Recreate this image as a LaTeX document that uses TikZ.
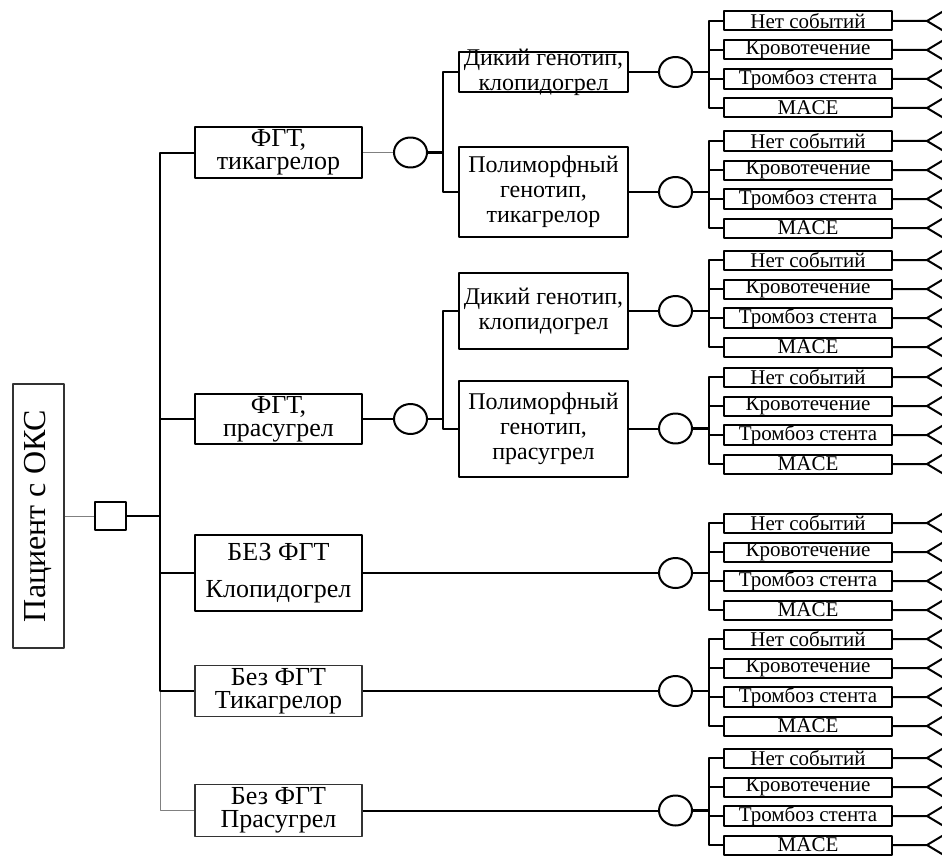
\documentclass[tikz,border=0pt]{standalone}
\usepackage{fontspec}
\setmainfont{Liberation Serif}
\usetikzlibrary{calc,shapes.geometric}

\begin{document}
\begin{tikzpicture}[x=0.5pt,y=-0.5pt,line join=round,
  every node/.style={inner sep=0pt},
  lk/.style={line width=1pt},
  gl/.style={line width=0.5pt,gray},
  bx/.style={draw,line width=1pt,minimum width=83.5pt},
  tb/.style={draw=black!80,line width=0.6pt,minimum width=83.5pt},
  gb/.style={draw,line width=1pt,minimum width=84.5pt},
  ob/.style={draw,line width=1pt,minimum width=84pt,minimum height=9.5pt,font=\fontsize{10.5}{12}\selectfont},
  ch/.style={draw,ellipse,line width=1pt,minimum width=16.5pt,minimum height=15pt},
  tx/.style={align=center,font=\fontsize{13}{11.5}\selectfont},
  gt/.style={align=center,font=\fontsize{12}{12.5}\selectfont}]
  \useasboundingbox (0,0) rectangle (942,856);
  % patient and decision
  \node[draw=black!80,line width=0.6pt,rotate=90,minimum width=132pt,minimum height=25.5pt,
    font=\fontsize{16}{18}\selectfont] (P) at (38.5,516) {Пациент с ОКС};
  \node[draw,line width=1pt,minimum width=15.5pt,minimum height=14pt] (D) at (110.5,516) {};
  \coordinate (B1) at (160,516);
  % strategies
  \node[bx,minimum height=25.5pt,label={[tx]center:{ФГТ,\\тикагрелор}}] (FT) at (278.5,152.5) {};
  \node[bx,minimum height=25pt,label={[tx]center:{ФГТ,\\прасугрел}}] (FP) at (278.5,419) {};
  \node[bx,minimum height=38pt,label={[tx,font=\fontsize{13}{18.5}\selectfont]center:{БЕЗ ФГТ\\Клопидогрел}}] (NC) at (278.5,573) {};
  \node[tb,minimum height=25.5pt,label={[tx]center:{Без ФГТ\\Тикагрелор}}] (NT) at (278.5,691) {};
  \node[tb,minimum height=26pt,label={[tx]center:{Без ФГТ\\Прасугрел}}] (NP) at (278.5,810.5) {};
  \draw[gl] (P.south) -- (D.west);
  \draw[lk] (D.east) -- (B1);
  \draw[gl] (B1) |- (NP.west);
  \draw[lk] (FT.west) -| (B1) |- (NT.west);
  \draw[lk] (B1) |- (FP.west);
  \draw[lk] (B1) |- (NC.west);
  % genotype
  \node[ch] (CT) at (410.5,152.5) {};
  \node[ch] (CP) at (410.5,419) {};
  \coordinate (B2) at ([xshift=7.5pt]CT.east);
  \coordinate (B3) at ([xshift=7.5pt]CP.east);
  \node[gb,minimum height=20pt,label={[gt]center:{Дикий генотип,\\клопидогрел}}] (WT1) at (543.5,72) {};
  \node[gb,minimum height=45pt,label={[gt]center:{Полиморфный\\генотип,\\тикагрелор}}] (PT1) at (543.5,192) {};
  \node[gb,minimum height=38pt,label={[gt]center:{Дикий генотип,\\клопидогрел}}] (WT2) at (543.5,311) {};
  \node[gb,minimum height=48pt,label={[gt]center:{Полиморфный\\генотип,\\прасугрел}}] (PT2) at (543.5,428.5) {};
  \draw[gl] (FT.east) -- (CT.west);
  \draw[lk] (FP.east) -- (CP.west);
  \draw[line width=1.4pt] (CT.east) -- (B2);
  \draw[line width=1.4pt] (CP.east) -- (B3);
  \draw[lk] (WT1.west) -| (B2) |- (PT1.west);
  \draw[lk] (WT2.west) -| (B3) |- (PT2.west);
  % outcomes
  \node[ch] (C1) at (675.5,72) {};
  \node[ch] (C2) at (675.5,192) {};
  \node[ch] (C3) at (675.5,311) {};
  \node[ch] (C4) at (675.5,428.5) {};
  \node[ch] (C5) at (675.5,573) {};
  \node[ch] (C6) at (675.5,691) {};
  \node[ch] (C7) at (675.5,810.5) {};
  \draw[lk] (WT1.east) -- (C1.west);
  \draw[lk] (PT1.east) -- (C2.west);
  \draw[lk] (WT2.east) -- (C3.west);
  \draw[lk] (PT2.east) -- (C4.west);
  \draw[lk] (NC.east) -- (C5.west);
  \draw[lk] (NT.east) -- (C6.west);
  \draw[lk] (NP.east) -- (C7.west);
  \foreach \c/\y in {C1/21,C2/141,C3/260,C4/377,C5/523,C6/639,C7/758}{
    \coordinate (B\c) at ([xshift=8pt]\c.east);
    \draw[line width=1.4pt] (\c.east) -- (B\c);
    \foreach \d/\t [count=\k] in {0/Нет событий,29/Кровотечение,58/Тромбоз стента,87/MACE}{
      \node[ob] (\c-\k) at (808,\y+\d) {\t};
      \draw[lk] (\c-\k.east) -- ++(17pt,0) coordinate (T\c-\k) -- ++(12.5pt,-7.5pt)
        (T\c-\k) -- ++(12.5pt,7.5pt);
    }
    \draw[lk] (\c-1.west) -| (B\c) |- (\c-4.west);
    \draw[lk] (B\c |- \c-2) -- (\c-2.west);
    \draw[lk] (B\c |- \c-3) -- (\c-3.west);
  }
\end{tikzpicture}
\end{document}
